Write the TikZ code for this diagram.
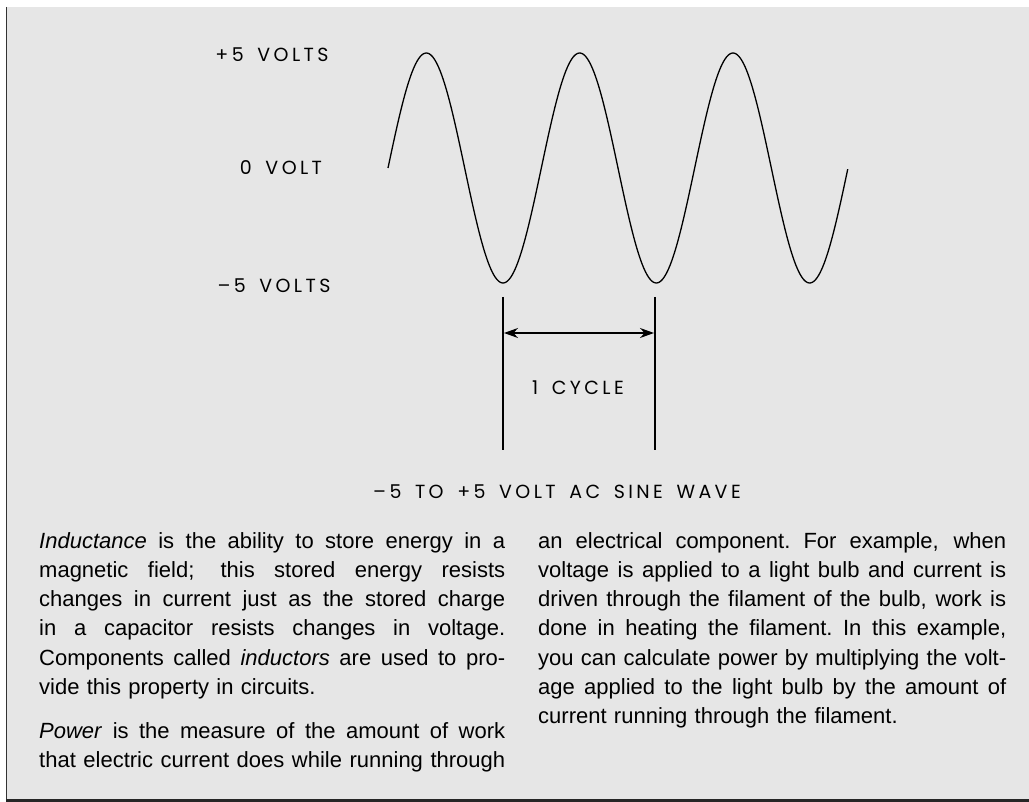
\documentclass[tikz,border=0pt]{standalone}
\usepackage{fontspec}
\usetikzlibrary{arrows.meta}
\setmainfont{Liberation Sans}
\newfontfamily\bodyfont{Liberation Sans}
\newfontfamily\labfont[LetterSpace=18, WordSpace=1.6]{Poppins}
\definecolor{bgray}{HTML}{E6E6E6}
\definecolor{framec}{HTML}{333333}
\newcommand{\jl}[2][466pt]{\noindent{\spaceskip=0.278em plus 0.8em minus 0.08em\xspaceskip=\spaceskip\hbox to #1{#2}}}
\begin{document}
\begin{tikzpicture}[x=1pt,y=-1pt,
  lab/.style={font=\labfont\fontsize{19}{21}\selectfont, inner sep=0pt, anchor=base},
  para/.style={font=\bodyfont\fontsize{22}{29.2}\selectfont, inner sep=0pt, anchor=base west},
  wave/.style={line width=1.3pt},
  guide/.style={line width=1.5pt},
  dim/.style={line width=1.4pt, {Stealth[length=14pt,width=10pt]}-{Stealth[length=14pt,width=10pt]}}]
\useasboundingbox (0,0) rectangle (1029,802);
\fill[bgray] (6,7) rectangle (1029,800);
\draw[framec, line width=1.5pt] (6.5,7) -- (6.5,802);
\draw[black!85, line width=3pt] (6,800.5) -- (1029,800.5);

% labels
\node[lab] (plus) at (272,62) {+5 VOLTS};
\node[lab] (zero) at (281,175) {0 VOLT};
\node[lab] (minus) at (274,293) {–5 VOLTS};
\node[lab] (cyc) at (578,395) {1 CYCLE};
\node[lab] (cap) at (557,498) {–5 TO +5 VOLT AC SINE WAVE};

% sine wave
\draw[wave] plot[domain=0:3, samples=301, smooth] ({388+153.33*\x}, {168-115*sin(360*\x)});

% cycle guides
\coordinate (g1t) at (503,297);
\coordinate (g1b) at (503,450);
\coordinate (g2t) at (655,297);
\coordinate (g2b) at (655,450);
\coordinate (a1) at (504,333);
\coordinate (a2) at (654,333);
\draw[guide] (g1t) -- (g1b);
\draw[guide] (g2t) -- (g2b);
\draw[dim] (a1) -- (a2);

% body text
\node[para, text width=466pt] (p1) at (39,548.3) {%
\jl{\textit{Inductance} is the ability to store energy in a}\\
\jl{magnetic field; this stored energy resists}\\
\jl{changes in current just as the stored charge}\\
\jl{in a capacitor resists changes in voltage.}\\
\jl{Components called \textit{inductors} are used to pro-}\\
vide this property in circuits.};
\node[para, text width=466pt] (p2) at (39,738.3) {%
\jl{\textit{Power} is the measure of the amount of work}\\
\jl{that electric current does while running through}};
\node[para, text width=468pt] (p3) at (538,548.3) {%
\jl[468pt]{an electrical component. For example, when}\\
\jl[468pt]{voltage is applied to a light bulb and current is}\\
\jl[468pt]{driven through the filament of the bulb, work is}\\
\jl[468pt]{done in heating the filament. In this example,}\\
\jl[468pt]{you can calculate power by multiplying the volt-}\\
\jl[468pt]{age applied to the light bulb by the amount of}\\
current running through the filament.};
\end{tikzpicture}
\end{document}
